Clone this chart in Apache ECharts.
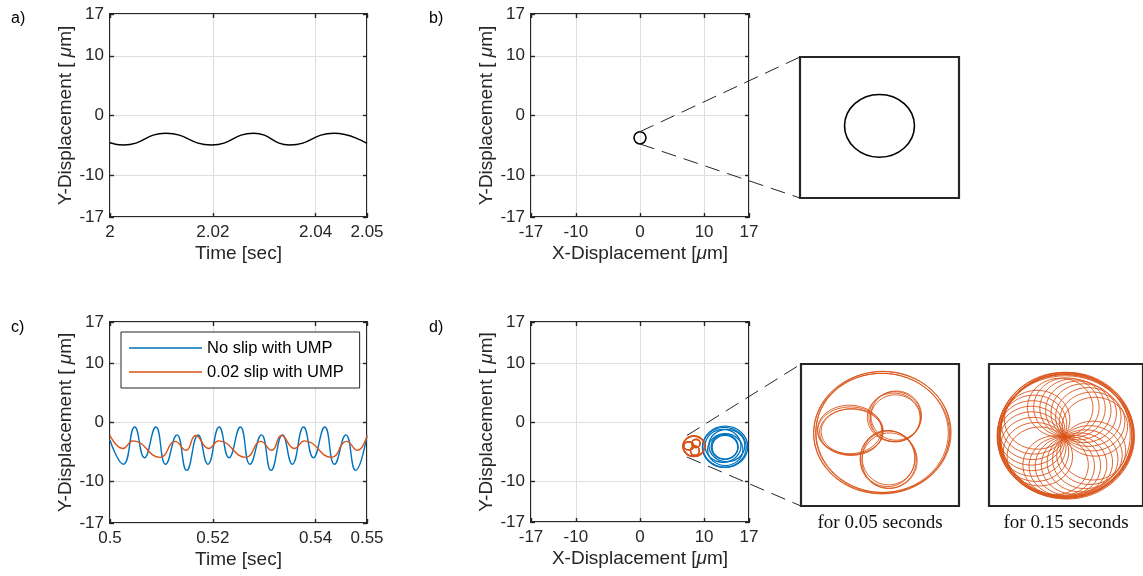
<!DOCTYPE html>
<html>
<head>
<meta charset="utf-8">
<script src="https://cdn.jsdelivr.net/npm/echarts@6/dist/echarts.min.js"></script>
<style>
html, body { margin: 0; padding: 0; background: #fff; }
#chart { width: 1143px; height: 576px; }
</style>
</head>
<body>
<div id="chart"></div>
<script>
// ---- data ----
// a) Y displacement, 2.00 - 2.05 s (turning points)
const timeA = [2.0, 2.00257, 2.01086, 2.01975, 2.02792, 2.03498, 2.04358, 2.05];
const dispA = [-4.56, -4.94, -2.98, -4.94, -2.98, -4.94, -2.98, -4.66];

// c) no slip (blue) and 0.02 slip (orange), 0.50 - 0.55 s
const timeBlue = [0.5, 0.50259, 0.50481, 0.5067, 0.50892, 0.51081, 0.51303, 0.51492, 0.51714,
  0.51903, 0.52125, 0.52314, 0.52536, 0.52723, 0.52947, 0.53134, 0.53356, 0.53545, 0.53767,
  0.53956, 0.54178, 0.54367, 0.54589, 0.54778, 0.55];
const dispBlue = [-3.0, -7.05, -0.77, -5.95, -0.77, -7.05, -2.1, -8.1, -2.1,
  -7.05, -0.77, -5.95, -0.77, -7.05, -2.1, -8.1, -2.1, -7.05, -0.77,
  -5.95, -0.77, -7.05, -2.1, -8.1, -2.2];
const timeOrange = [0.5, 0.50253, 0.50448, 0.50974, 0.51266, 0.5148, 0.51667, 0.5192, 0.52115,
  0.52641, 0.52933, 0.53147, 0.53335, 0.53588, 0.53783, 0.54309, 0.54601, 0.54815, 0.55];
const dispOrange = [-2.2, -4.4, -3.1, -5.9, -3.2, -4.7, -2.2, -4.4, -3.1,
  -5.9, -3.2, -4.7, -2.2, -4.4, -3.1, -5.9, -3.2, -4.7, -2.2];

// orbits as loops [centre x, centre y, half width, half height] in um
const orbitB = [[0, -3.74, 0.93, 1.03]];
const orbitBlueD = [
  [13.3, -4.2, 3.5, 3.5], [13.15, -4.3, 3.42, 3.4],
  [13.55, -4.0, 2.8, 2.75], [12.95, -4.05, 2.8, 2.8], [13.3, -4.7, 2.75, 2.7],
  [13.2, -4.2, 2.1, 2.1], [13.25, -4.3, 2.0, 2.05]
];
const orbitOrange05 = [
  [8.41, -4.11, 1.74, 1.76], [8.39, -4.14, 1.72, 1.74], [8.43, -4.09, 1.70, 1.75], [8.40, -4.12, 1.68, 1.72],
  [7.60, -4.06, 0.83, 0.69], [7.62, -4.10, 0.80, 0.67], [7.58, -4.02, 0.81, 0.70], [7.64, -4.08, 0.78, 0.66],
  [8.73, -3.65, 0.66, 0.72], [8.76, -3.62, 0.64, 0.71], [8.70, -3.67, 0.67, 0.70], [8.74, -3.70, 0.63, 0.68],
  [8.56, -4.89, 0.71, 0.83], [8.54, -4.86, 0.69, 0.81], [8.59, -4.92, 0.70, 0.80], [8.57, -4.84, 0.67, 0.78]
];
const orbitOrange15 = [
  [8.33, -4.18, 1.76, 1.80], [8.36, -4.20, 1.74, 1.79], [8.31, -4.22, 1.75, 1.78], [8.38, -4.17, 1.73, 1.80],
  [8.34, -4.24, 1.77, 1.77], [8.30, -4.16, 1.72, 1.79], [8.37, -4.22, 1.76, 1.81], [8.35, -4.19, 1.71, 1.76],
  [9.10, -3.94, 0.85, 0.85], [9.03, -3.79, 0.85, 0.85], [8.93, -3.66, 0.85, 0.85], [8.81, -3.55, 0.85, 0.85],
  [8.67, -3.47, 0.85, 0.85], [8.52, -3.41, 0.85, 0.85], [8.36, -3.38, 0.85, 0.85], [8.20, -3.39, 0.85, 0.85],
  [7.60, -3.74, 0.85, 0.85], [7.52, -3.88, 0.85, 0.85], [7.47, -4.04, 0.85, 0.85], [7.45, -4.20, 0.85, 0.85],
  [7.46, -4.36, 0.85, 0.85], [7.50, -4.52, 0.85, 0.85], [7.57, -4.67, 0.85, 0.85], [7.67, -4.80, 0.85, 0.85],
  [8.08, -5.05, 0.85, 0.85], [8.24, -5.08, 0.85, 0.85], [8.40, -5.07, 0.85, 0.85], [8.56, -5.04, 0.85, 0.85],
  [8.71, -4.97, 0.85, 0.85], [8.85, -4.88, 0.85, 0.85], [8.96, -4.76, 0.85, 0.85], [9.05, -4.63, 0.85, 0.85]
];

// ticks
const dispTicks = [-17, -10, 0, 10, 17];
const timeTicksA = [2, 2.02, 2.04, 2.05];
const timeTicksC = [0.5, 0.52, 0.54, 0.55];

// zoom windows and where the dashed guides start
const insetRangeB = {x: [-2.115, 2.115], y: [-6.11, -1.48]};
const insetRangeD = {x: [6.35, 10.35], y: [-6.23, -2.13]};
const guideFromB = [[0, -2.71], [0, -4.77]];
const guideFromD = [[7.3, -2.3], [7.3, -5.95]];

// ---- chart ----
const ink = '#262626';
const font = '"Liberation Sans", Arial, Helvetica, sans-serif';
const blue = '#0072BD';
const orange = '#D95319';

const chart = echarts.init(document.getElementById('chart'));

const richName = {
  t: {fontSize: 19, color: ink, fontFamily: font},
  m: {fontSize: 19, color: ink, fontFamily: font, fontStyle: 'italic'}
};
const tickStyle = {color: ink, width: 1.4};
const gridLine = {show: true, lineStyle: {color: '#dedede', width: 1}};

function mainX(gi, min, max, ticks, name) {
  return [{
    gridIndex: gi, type: 'value', min: min, max: max, position: 'bottom',
    name: name, nameLocation: 'middle', nameGap: 27,
    nameTextStyle: {fontSize: 19, color: ink, fontFamily: font, rich: richName},
    axisLine: {show: false, onZero: false},
    axisTick: {show: true, inside: true, length: 4, customValues: ticks, lineStyle: tickStyle},
    axisLabel: {show: true, customValues: ticks, margin: 7, fontSize: 17, color: ink, fontFamily: font},
    splitLine: gridLine
  }, {
    gridIndex: gi, type: 'value', min: min, max: max, position: 'top',
    axisLine: {show: false, onZero: false},
    axisTick: {show: true, inside: true, length: 4, customValues: ticks, lineStyle: tickStyle},
    axisLabel: {show: false}, splitLine: {show: false}
  }];
}

function mainY(gi) {
  return [{
    gridIndex: gi, type: 'value', min: -17, max: 17, position: 'left',
    name: '{t|Y-Displacement [ }{m|μ}{t|m]}', nameLocation: 'middle', nameGap: 32,
    nameTextStyle: {fontSize: 19, color: ink, fontFamily: font, rich: richName},
    axisLine: {show: false, onZero: false},
    axisTick: {show: true, inside: true, length: 4, customValues: dispTicks, lineStyle: tickStyle},
    axisLabel: {show: true, customValues: dispTicks, margin: 6, fontSize: 17, color: ink, fontFamily: font},
    splitLine: gridLine
  }, {
    gridIndex: gi, type: 'value', min: -17, max: 17, position: 'right',
    axisLine: {show: false, onZero: false},
    axisTick: {show: true, inside: true, length: 4, customValues: dispTicks, lineStyle: tickStyle},
    axisLabel: {show: false}, splitLine: {show: false}
  }];
}

function insetX(gi, range, caption) {
  return {
    gridIndex: gi, type: 'value', min: range[0], max: range[1],
    name: caption || '', nameLocation: 'middle', nameGap: 8,
    nameTextStyle: {fontSize: 19, color: '#111', fontFamily: '"Liberation Serif", "Times New Roman", serif'},
    axisLine: {show: false, onZero: false}, axisTick: {show: false}, axisLabel: {show: false}, splitLine: {show: false}
  };
}
function insetY(gi, range) {
  return {
    gridIndex: gi, type: 'value', min: range[0], max: range[1],
    axisLine: {show: false, onZero: false}, axisTick: {show: false}, axisLabel: {show: false}, splitLine: {show: false}
  };
}

function loops(rings, axisIdx, color, width) {
  return {
    type: 'custom', xAxisIndex: axisIdx, yAxisIndex: axisIdx, data: rings, silent: true,
    renderItem: function (params, api) {
      const c = api.coord([api.value(0), api.value(1)]);
      const s = api.size([api.value(2), api.value(3)]);
      return {
        type: 'ellipse',
        shape: {cx: c[0], cy: c[1], rx: s[0], ry: s[1]},
        style: {fill: 'none', stroke: color, lineWidth: width}
      };
    }
  };
}

const frame = {show: true, borderColor: ink, borderWidth: 2, backgroundColor: 'transparent'};
const insetFrame = {show: true, borderColor: ink, borderWidth: 2.2, backgroundColor: 'transparent'};

const option = {
  animation: false,
  backgroundColor: '#fff',
  title: [
    {text: 'a)', left: 11, top: 11},
    {text: 'b)', left: 429, top: 11},
    {text: 'c)', left: 11, top: 320},
    {text: 'd)', left: 429, top: 320}
  ].map(t => Object.assign(t, {padding: 0, textStyle: {fontSize: 16, fontWeight: 'normal', color: '#000', fontFamily: font}})),
  grid: [
    Object.assign({left: 110, top: 14, width: 257, height: 203}, frame),
    Object.assign({left: 531, top: 14, width: 218, height: 203}, frame),
    Object.assign({left: 110, top: 322, width: 257, height: 201}, frame),
    Object.assign({left: 531, top: 322, width: 218, height: 200}, frame),
    Object.assign({left: 800, top: 57, width: 159, height: 141}, insetFrame),
    Object.assign({left: 801, top: 364, width: 158, height: 142}, insetFrame),
    Object.assign({left: 989, top: 364, width: 159, height: 142}, insetFrame)
  ],
  xAxis: [].concat(
    mainX(0, 2, 2.05, timeTicksA, 'Time [sec]'),
    mainX(1, -17, 17, dispTicks, '{t|X-Displacement [}{m|μ}{t|m]}'),
    mainX(2, 0.5, 0.55, timeTicksC, 'Time [sec]'),
    mainX(3, -17, 17, dispTicks, '{t|X-Displacement [}{m|μ}{t|m]}'),
    [insetX(4, insetRangeB.x), insetX(5, insetRangeD.x, 'for 0.05 seconds'), insetX(6, insetRangeD.x, 'for 0.15 seconds')]
  ),
  yAxis: [].concat(
    mainY(0), mainY(1), mainY(2), mainY(3),
    [insetY(4, insetRangeB.y), insetY(5, insetRangeD.y), insetY(6, insetRangeD.y)]
  ),
  legend: {
    data: ['No slip with UMP', '0.02 slip with UMP'],
    orient: 'vertical', left: 121, top: 332,
    padding: [6, 16, 6, 8], icon: 'rect', itemWidth: 73, itemHeight: 1.5, itemGap: 4,
    backgroundColor: '#fff', borderColor: ink, borderWidth: 1, borderRadius: 0,
    selectedMode: false,
    textStyle: {fontSize: 16.5, lineHeight: 20, color: '#000', fontFamily: font}
  },
  series: [
    {
      type: 'line', xAxisIndex: 0, yAxisIndex: 0, smooth: true, symbol: 'none',
      data: timeA.map((t, i) => [t, dispA[i]]),
      lineStyle: {color: '#000', width: 1.4}
    },
    loops(orbitB, 2, '#000', 1.6),
    {
      name: 'No slip with UMP', type: 'line', xAxisIndex: 4, yAxisIndex: 4, smooth: true, symbol: 'none',
      data: timeBlue.map((t, i) => [t, dispBlue[i]]),
      itemStyle: {color: blue}, lineStyle: {color: blue, width: 1.4}
    },
    {
      name: '0.02 slip with UMP', type: 'line', xAxisIndex: 4, yAxisIndex: 4, smooth: true, symbol: 'none',
      data: timeOrange.map((t, i) => [t, dispOrange[i]]),
      itemStyle: {color: orange}, lineStyle: {color: orange, width: 1.4}
    },
    loops(orbitBlueD, 6, blue, 1.3),
    loops(orbitOrange05, 6, orange, 1.1),
    loops(orbitB, 8, '#000', 1.6),
    loops(orbitOrange05, 9, orange, 0.9),
    loops(orbitOrange15, 10, orange, 0.9)
  ]
};

chart.setOption(option);

// dashed guides from the orbit to the zoom windows
function guides(from, fromAxis, range, toAxis) {
  const a = chart.convertToPixel({xAxisIndex: fromAxis, yAxisIndex: fromAxis}, from[0]);
  const b = chart.convertToPixel({xAxisIndex: fromAxis, yAxisIndex: fromAxis}, from[1]);
  const c = chart.convertToPixel({xAxisIndex: toAxis, yAxisIndex: toAxis}, [range.x[0], range.y[1]]);
  const d = chart.convertToPixel({xAxisIndex: toAxis, yAxisIndex: toAxis}, [range.x[0], range.y[0]]);
  const style = {stroke: ink, lineWidth: 1, lineDash: [15, 8]};
  return [
    {type: 'line', silent: true, z: 20, shape: {x1: a[0], y1: a[1], x2: c[0], y2: c[1]}, style: style},
    {type: 'line', silent: true, z: 20, shape: {x1: b[0], y1: b[1], x2: d[0], y2: d[1]}, style: style}
  ];
}

chart.setOption({
  graphic: [].concat(
    guides(guideFromB, 2, insetRangeB, 8),
    guides(guideFromD, 6, insetRangeD, 9)
  )
});
</script>
</body>
</html>
